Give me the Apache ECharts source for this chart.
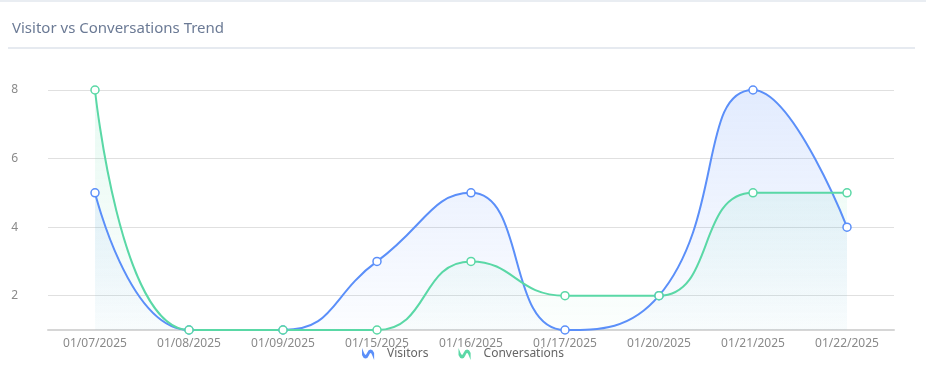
<!DOCTYPE html>
<html><head><meta charset="utf-8">
<script src="https://cdn.jsdelivr.net/npm/echarts@6/dist/echarts.min.js"></script>
<style>html,body{margin:0;padding:0;background:#fff}#c{width:926px;height:389px}</style>
</head><body><div id="c"></div>
<script>
const categories = ['01/07/2025','01/08/2025','01/09/2025','01/15/2025','01/16/2025','01/17/2025','01/20/2025','01/21/2025','01/22/2025'];
const visitors = [5,1,1,3,5,1,2,8,4];
const conversations = [8,1,1,1,3,2,2,5,5];
const titleText = 'Visitor vs Conversations Trend';

const wave = 'path://M0,2 C2,7 5,7 7,2 C9,-3 12,-3 14,2 L14,4.2 C12,-0.8 9,-0.8 7,4.2 C5,9.2 2,9.2 0,4.2 Z';
const chart = echarts.init(document.getElementById('c'));
function grad(r,g,b,a1,a2){
  return new echarts.graphic.LinearGradient(0,0,0,1,[{offset:0,color:`rgba(${r},${g},${b},${a1})`},{offset:1,color:`rgba(${r},${g},${b},${a2})`}]);
}
chart.setOption({
  animation:false,
  textStyle:{fontFamily:'"Noto Sans", sans-serif'},
  title:{text:titleText,left:7,top:16,textStyle:{fontSize:15,fontWeight:'normal',color:'#6b7a95',fontFamily:'"Noto Sans", sans-serif'}},
  graphic:[
    {type:'rect',shape:{x:0,y:0,width:926,height:2},style:{fill:'#e9edf2'},silent:true},
    {type:'rect',shape:{x:8,y:47,width:907,height:2},style:{fill:'#e6eaf0'},silent:true}
  ],
  legend:{bottom:24,left:'center',itemWidth:14,itemHeight:7,itemGap:30,
    textStyle:{color:'#666',fontSize:12,padding:[0,0,0,7]},
    data:[{name:'Visitors',icon:wave},{name:'Conversations',icon:wave}]},
  grid:{left:48,right:32,top:90,bottom:59},
  xAxis:{type:'category',data:categories,boundaryGap:true,
    axisLine:{lineStyle:{color:'#d6d6d6',width:2}},
    axisTick:{alignWithLabel:true,lineStyle:{color:'#d6d6d6'}},
    axisLabel:{color:'#8a8a8a',fontSize:12,margin:8}},
  yAxis:{type:'value',min:1,max:8,splitNumber:3,
    axisLine:{show:false},axisTick:{show:false},
    axisLabel:{color:'#8a8a8a',fontSize:12,showMinLabel:false,margin:30},
    splitLine:{lineStyle:{color:'#e0e0e0'}}},
  series:[
    {name:'Visitors',type:'line',smooth:true,data:visitors,
      symbol:'circle',symbolSize:8,
      itemStyle:{color:'#fff',borderColor:'#5b8ff9',borderWidth:1.5},
      lineStyle:{width:2,color:'#5b8ff9'},
      areaStyle:{color:grad(91,143,249,0.25,0.03)}},
    {name:'Conversations',type:'line',smooth:true,data:conversations,
      symbol:'circle',symbolSize:8,
      itemStyle:{color:'#fff',borderColor:'#5ad8a6',borderWidth:1.5},
      lineStyle:{width:2,color:'#5ad8a6'},
      areaStyle:{color:grad(90,216,166,0.2,0.03)}}
  ]
});
</script></body></html>
